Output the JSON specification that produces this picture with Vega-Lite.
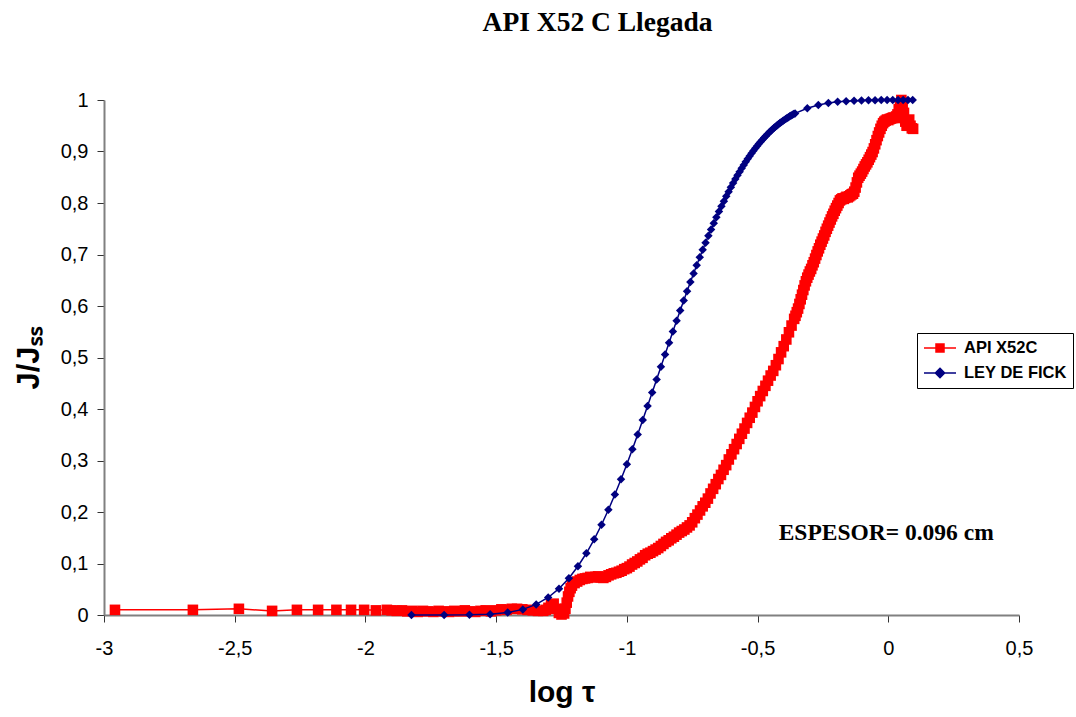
{
  "$schema": "https://vega.github.io/schema/vega-lite/v6.json",
  "width": 915,
  "height": 515,
  "autosize": "none",
  "padding": {"left": 104, "top": 100, "right": 57, "bottom": 102},
  "background": "white",
  "config": {"view": {"stroke": null}, "font": "Liberation Sans"},
  "title": {"text": "API X52 C Llegada", "font": "Liberation Serif", "fontSize": 27.5, "fontWeight": "bold", "color": "black", "anchor": "middle", "dx": 36, "offset": 54},
  "datasets": {
    "red": [
      {"x": -2.958, "y": 0.010}, {"x": -2.660, "y": 0.010}, {"x": -2.484, "y": 0.012}, {"x": -2.357, "y": 0.008},
      {"x": -2.262, "y": 0.010}, {"x": -2.181, "y": 0.010}, {"x": -2.111, "y": 0.010}, {"x": -2.055, "y": 0.010},
      {"x": -2.005, "y": 0.010}, {"x": -1.960, "y": 0.009}, {"x": -1.918, "y": 0.010},
      {"x": -1.90, "y": 0.009}, {"x": -1.88, "y": 0.008}, {"x": -1.86, "y": 0.009}, {"x": -1.84, "y": 0.007},
      {"x": -1.82, "y": 0.008}, {"x": -1.80, "y": 0.006}, {"x": -1.78, "y": 0.008}, {"x": -1.76, "y": 0.007},
      {"x": -1.74, "y": 0.006}, {"x": -1.72, "y": 0.008}, {"x": -1.70, "y": 0.007}, {"x": -1.68, "y": 0.006},
      {"x": -1.66, "y": 0.008}, {"x": -1.64, "y": 0.007}, {"x": -1.62, "y": 0.009}, {"x": -1.60, "y": 0.007},
      {"x": -1.58, "y": 0.006}, {"x": -1.56, "y": 0.008}, {"x": -1.54, "y": 0.009}, {"x": -1.52, "y": 0.007},
      {"x": -1.50, "y": 0.009}, {"x": -1.48, "y": 0.011}, {"x": -1.46, "y": 0.010}, {"x": -1.44, "y": 0.012},
      {"x": -1.42, "y": 0.012}, {"x": -1.40, "y": 0.011}, {"x": -1.38, "y": 0.010}, {"x": -1.36, "y": 0.009},
      {"x": -1.34, "y": 0.008}, {"x": -1.32, "y": 0.008}, {"x": -1.31, "y": 0.010}, {"x": -1.30, "y": 0.014},
      {"x": -1.29, "y": 0.020}, {"x": -1.28, "y": 0.022}, {"x": -1.27, "y": 0.012}, {"x": -1.26, "y": 0.004},
      {"x": -1.25, "y": 0.001}, {"x": -1.24, "y": 0.003}, {"x": -1.235, "y": 0.012}, {"x": -1.23, "y": 0.024},
      {"x": -1.225, "y": 0.036}, {"x": -1.22, "y": 0.045}, {"x": -1.215, "y": 0.052}, {"x": -1.21, "y": 0.057},
      {"x": -1.20, "y": 0.062}, {"x": -1.19, "y": 0.065}, {"x": -1.18, "y": 0.068}, {"x": -1.17, "y": 0.070},
      {"x": -1.16, "y": 0.071}, {"x": -1.15, "y": 0.072}, {"x": -1.14, "y": 0.074}, {"x": -1.13, "y": 0.073},
      {"x": -1.12, "y": 0.074}, {"x": -1.11, "y": 0.075}, {"x": -1.10, "y": 0.073}, {"x": -1.09, "y": 0.072},
      {"x": -1.08, "y": 0.074}, {"x": -1.07, "y": 0.077}, {"x": -1.06, "y": 0.079}, {"x": -1.05, "y": 0.081},
      {"x": -1.04, "y": 0.082}, {"x": -1.03, "y": 0.084}, {"x": -1.02, "y": 0.086}, {"x": -1.01, "y": 0.089},
      {"x": -1.00, "y": 0.091}, {"x": -0.99, "y": 0.094}, {"x": -0.98, "y": 0.098}, {"x": -0.97, "y": 0.101},
      {"x": -0.96, "y": 0.104}, {"x": -0.95, "y": 0.108}, {"x": -0.94, "y": 0.111}, {"x": -0.93, "y": 0.116},
      {"x": -0.92, "y": 0.119}, {"x": -0.91, "y": 0.121}, {"x": -0.90, "y": 0.124}, {"x": -0.89, "y": 0.127},
      {"x": -0.88, "y": 0.130}, {"x": -0.87, "y": 0.134}, {"x": -0.86, "y": 0.138}, {"x": -0.85, "y": 0.142},
      {"x": -0.84, "y": 0.145}, {"x": -0.83, "y": 0.149}, {"x": -0.82, "y": 0.152}, {"x": -0.81, "y": 0.156},
      {"x": -0.80, "y": 0.160}, {"x": -0.79, "y": 0.163}, {"x": -0.78, "y": 0.166}, {"x": -0.77, "y": 0.170},
      {"x": -0.76, "y": 0.174}, {"x": -0.75, "y": 0.180}, {"x": -0.74, "y": 0.188}, {"x": -0.73, "y": 0.195},
      {"x": -0.72, "y": 0.203}, {"x": -0.71, "y": 0.211}, {"x": -0.70, "y": 0.218}, {"x": -0.69, "y": 0.226},
      {"x": -0.68, "y": 0.236}, {"x": -0.67, "y": 0.245}, {"x": -0.66, "y": 0.254}, {"x": -0.65, "y": 0.264},
      {"x": -0.64, "y": 0.272}, {"x": -0.63, "y": 0.282}, {"x": -0.62, "y": 0.291}, {"x": -0.61, "y": 0.302},
      {"x": -0.60, "y": 0.312}, {"x": -0.59, "y": 0.322}, {"x": -0.58, "y": 0.332}, {"x": -0.57, "y": 0.342},
      {"x": -0.56, "y": 0.352}, {"x": -0.55, "y": 0.362}, {"x": -0.54, "y": 0.373}, {"x": -0.53, "y": 0.383},
      {"x": -0.52, "y": 0.393}, {"x": -0.51, "y": 0.404}, {"x": -0.50, "y": 0.415}, {"x": -0.49, "y": 0.425},
      {"x": -0.48, "y": 0.435}, {"x": -0.47, "y": 0.445}, {"x": -0.46, "y": 0.455}, {"x": -0.45, "y": 0.465},
      {"x": -0.44, "y": 0.474}, {"x": -0.43, "y": 0.485}, {"x": -0.42, "y": 0.497}, {"x": -0.41, "y": 0.510},
      {"x": -0.40, "y": 0.522}, {"x": -0.39, "y": 0.535}, {"x": -0.38, "y": 0.549}, {"x": -0.37, "y": 0.562},
      {"x": -0.36, "y": 0.575}, {"x": -0.355, "y": 0.581}, {"x": -0.35, "y": 0.588}, {"x": -0.345, "y": 0.595},
      {"x": -0.34, "y": 0.604}, {"x": -0.335, "y": 0.613}, {"x": -0.33, "y": 0.622}, {"x": -0.325, "y": 0.631},
      {"x": -0.32, "y": 0.640}, {"x": -0.315, "y": 0.648}, {"x": -0.31, "y": 0.655}, {"x": -0.305, "y": 0.661},
      {"x": -0.30, "y": 0.667}, {"x": -0.295, "y": 0.672}, {"x": -0.29, "y": 0.679}, {"x": -0.285, "y": 0.685},
      {"x": -0.28, "y": 0.692}, {"x": -0.275, "y": 0.699}, {"x": -0.27, "y": 0.706}, {"x": -0.265, "y": 0.712},
      {"x": -0.26, "y": 0.719}, {"x": -0.255, "y": 0.725}, {"x": -0.25, "y": 0.731}, {"x": -0.245, "y": 0.737},
      {"x": -0.24, "y": 0.744}, {"x": -0.235, "y": 0.750}, {"x": -0.23, "y": 0.756}, {"x": -0.225, "y": 0.762},
      {"x": -0.22, "y": 0.768}, {"x": -0.215, "y": 0.774}, {"x": -0.21, "y": 0.779}, {"x": -0.205, "y": 0.785},
      {"x": -0.20, "y": 0.790}, {"x": -0.195, "y": 0.795}, {"x": -0.19, "y": 0.800}, {"x": -0.185, "y": 0.805},
      {"x": -0.18, "y": 0.807}, {"x": -0.175, "y": 0.809}, {"x": -0.17, "y": 0.808}, {"x": -0.165, "y": 0.810},
      {"x": -0.16, "y": 0.812}, {"x": -0.155, "y": 0.811}, {"x": -0.15, "y": 0.813}, {"x": -0.145, "y": 0.815},
      {"x": -0.14, "y": 0.817}, {"x": -0.135, "y": 0.818}, {"x": -0.13, "y": 0.822}, {"x": -0.125, "y": 0.830},
      {"x": -0.12, "y": 0.840}, {"x": -0.115, "y": 0.849}, {"x": -0.11, "y": 0.853}, {"x": -0.105, "y": 0.857},
      {"x": -0.10, "y": 0.861}, {"x": -0.095, "y": 0.866}, {"x": -0.09, "y": 0.871}, {"x": -0.085, "y": 0.875},
      {"x": -0.08, "y": 0.879}, {"x": -0.075, "y": 0.884}, {"x": -0.07, "y": 0.889}, {"x": -0.065, "y": 0.894},
      {"x": -0.06, "y": 0.899}, {"x": -0.055, "y": 0.906}, {"x": -0.05, "y": 0.914}, {"x": -0.045, "y": 0.922},
      {"x": -0.04, "y": 0.930}, {"x": -0.035, "y": 0.937}, {"x": -0.03, "y": 0.944}, {"x": -0.025, "y": 0.950},
      {"x": -0.02, "y": 0.955}, {"x": -0.015, "y": 0.958}, {"x": -0.01, "y": 0.960}, {"x": -0.005, "y": 0.962},
      {"x": 0.0, "y": 0.961}, {"x": 0.005, "y": 0.963}, {"x": 0.01, "y": 0.964}, {"x": 0.015, "y": 0.965},
      {"x": 0.02, "y": 0.966}, {"x": 0.025, "y": 0.965}, {"x": 0.03, "y": 0.968}, {"x": 0.035, "y": 0.972},
      {"x": 0.04, "y": 0.982}, {"x": 0.045, "y": 0.992}, {"x": 0.05, "y": 1.0}, {"x": 0.055, "y": 0.993},
      {"x": 0.06, "y": 0.975}, {"x": 0.065, "y": 0.958}, {"x": 0.07, "y": 0.950}, {"x": 0.075, "y": 0.955},
      {"x": 0.08, "y": 0.962}, {"x": 0.085, "y": 0.950}, {"x": 0.09, "y": 0.945}, {"x": 0.095, "y": 0.944}
    ],
    "blue": [
      {"x": -1.8239, "y": 0.0}, {"x": -1.699, "y": 0.0}, {"x": -1.6021, "y": 0.0003}, {"x": -1.5229, "y": 0.0016},
      {"x": -1.4559, "y": 0.0048}, {"x": -1.3979, "y": 0.0109}, {"x": -1.3468, "y": 0.0206}, {"x": -1.301, "y": 0.034},
      {"x": -1.2596, "y": 0.0511}, {"x": -1.2218, "y": 0.0714}, {"x": -1.1871, "y": 0.0946}, {"x": -1.1549, "y": 0.1199},
      {"x": -1.1249, "y": 0.147}, {"x": -1.0969, "y": 0.1753}, {"x": -1.0706, "y": 0.2043}, {"x": -1.0458, "y": 0.2339},
      {"x": -1.0223, "y": 0.2635}, {"x": -1.0, "y": 0.2929}, {"x": -0.9788, "y": 0.3219}, {"x": -0.9586, "y": 0.3505},
      {"x": -0.9393, "y": 0.3785}, {"x": -0.9208, "y": 0.4057}, {"x": -0.9031, "y": 0.432}, {"x": -0.8861, "y": 0.4574},
      {"x": -0.8697, "y": 0.4821}, {"x": -0.8539, "y": 0.5058}, {"x": -0.8386, "y": 0.5285}, {"x": -0.8239, "y": 0.5504},
      {"x": -0.8097, "y": 0.5712}, {"x": -0.7959, "y": 0.5912}, {"x": -0.7825, "y": 0.6106}, {"x": -0.7696, "y": 0.6288},
      {"x": -0.757, "y": 0.6464}, {"x": -0.7447, "y": 0.6632}, {"x": -0.7328, "y": 0.6791}, {"x": -0.7212, "y": 0.6945},
      {"x": -0.71, "y": 0.7091}, {"x": -0.699, "y": 0.7229}, {"x": -0.6882, "y": 0.7362}, {"x": -0.6778, "y": 0.7487},
      {"x": -0.6676, "y": 0.7608}, {"x": -0.6576, "y": 0.7723}, {"x": -0.6478, "y": 0.7833}, {"x": -0.6383, "y": 0.7936},
      {"x": -0.6289, "y": 0.8035}, {"x": -0.6198, "y": 0.813}, {"x": -0.6108, "y": 0.8219}, {"x": -0.6021, "y": 0.8305},
      {"x": -0.5935, "y": 0.8386}, {"x": -0.585, "y": 0.8464}, {"x": -0.5768, "y": 0.8538}, {"x": -0.5686, "y": 0.8608},
      {"x": -0.5607, "y": 0.8675}, {"x": -0.5528, "y": 0.8739}, {"x": -0.5452, "y": 0.8799}, {"x": -0.5376, "y": 0.8857},
      {"x": -0.5302, "y": 0.8912}, {"x": -0.5229, "y": 0.8965}, {"x": -0.5157, "y": 0.9014}, {"x": -0.5086, "y": 0.9062},
      {"x": -0.5017, "y": 0.9107}, {"x": -0.4949, "y": 0.915}, {"x": -0.4881, "y": 0.9191}, {"x": -0.4815, "y": 0.923},
      {"x": -0.475, "y": 0.9267}, {"x": -0.4685, "y": 0.9302}, {"x": -0.4622, "y": 0.9336}, {"x": -0.4559, "y": 0.9368},
      {"x": -0.4498, "y": 0.9398}, {"x": -0.4437, "y": 0.9427}, {"x": -0.4377, "y": 0.9455}, {"x": -0.4318, "y": 0.9481},
      {"x": -0.426, "y": 0.9506}, {"x": -0.4202, "y": 0.953}, {"x": -0.4145, "y": 0.9552}, {"x": -0.4089, "y": 0.9574},
      {"x": -0.4034, "y": 0.9594}, {"x": -0.3979, "y": 0.9614}, {"x": -0.3925, "y": 0.9633}, {"x": -0.3872, "y": 0.965},
      {"x": -0.382, "y": 0.9667}, {"x": -0.3768, "y": 0.9683}, {"x": -0.3716, "y": 0.9698}, {"x": -0.3665, "y": 0.9713},
      {"x": -0.3615, "y": 0.9727}, {"x": -0.3565, "y": 0.974}, {"x": -0.3098, "y": 0.9841}, {"x": -0.2676, "y": 0.9903},
      {"x": -0.2291, "y": 0.9941}, {"x": -0.1938, "y": 0.9964}, {"x": -0.1612, "y": 0.9978}, {"x": -0.1308, "y": 0.9987},
      {"x": -0.1024, "y": 0.9992}, {"x": -0.0757, "y": 0.9995}, {"x": -0.0506, "y": 0.9997}, {"x": -0.0269, "y": 0.9998},
      {"x": -0.0044, "y": 0.9999}, {"x": 0.017, "y": 1.0}, {"x": 0.0374, "y": 1.0}, {"x": 0.0569, "y": 1.0},
      {"x": 0.0755, "y": 1.0}, {"x": 0.0934, "y": 1.0}
    ],
    "note": [{"x": -0.008, "y": 0.159, "t": "ESPESOR= 0.096 cm"}]
  },
  "encoding": {
    "x": {
      "field": "x", "type": "quantitative",
      "scale": {"domain": [-3, 0.5], "nice": false, "zero": false},
      "axis": {
        "values": [-3, -2.5, -2, -1.5, -1, -0.5, 0, 0.5],
        "labelExpr": "replace(toString(datum.value), '.', ',')",
        "title": "log τ", "titleFont": "Liberation Sans", "titleFontSize": 30, "titleFontWeight": "bold", "titleColor": "black", "titlePadding": 19,
        "labelFont": "Liberation Sans", "labelFontSize": 20, "labelColor": "black", "labelPadding": 16, "labelFlush": false, "labelOverlap": false,
        "tickSize": 7, "tickColor": "#333333", "tickWidth": 1, "domainColor": "#808080", "domainWidth": 2, "grid": false
      }
    },
    "y": {
      "field": "y", "type": "quantitative",
      "scale": {"domain": [0, 1], "nice": false, "zero": false},
      "axis": {
        "values": [0, 0.1, 0.2, 0.3, 0.4, 0.5, 0.6, 0.7, 0.8, 0.9, 1],
        "labelExpr": "replace(toString(datum.value), '.', ',')",
        "title": "J/Jₛₛ", "titleFont": "Liberation Sans", "titleFontSize": 31, "titleFontWeight": "bold", "titleColor": "black", "titlePadding": 15,
        "labelFont": "Liberation Sans", "labelFontSize": 20, "labelColor": "black", "labelPadding": 9, "labelFlush": false, "labelOverlap": false,
        "tickSize": 7, "tickColor": "#333333", "tickWidth": 1, "domainColor": "#808080", "domainWidth": 2, "grid": false
      }
    }
  },
  "layer": [
    {
      "data": {"name": "red"},
      "mark": {"type": "line", "strokeWidth": 1.5, "clip": false},
      "encoding": {
        "color": {
          "datum": "API X52C",
          "type": "nominal",
          "scale": {"domain": ["API X52C", "LEY DE FICK"], "range": ["#FF0000", "#000080"]},
          "legend": {
            "orient": "none", "legendX": 813, "legendY": 233, "title": null,
            "strokeColor": "black", "fillColor": "white", "padding": 6,
            "symbolSize": 256, "symbolStrokeWidth": 1.5,
            "labelFont": "Liberation Sans", "labelFontSize": 16.5, "labelFontWeight": "bold", "labelColor": "black",
            "labelOffset": 23, "rowPadding": 7,
            "encode": {
              "symbols": {
                "update": {
                  "shape": {"signal": "datum.value == 'API X52C' ? 'M-1,0H3M0.5,-0.5H1.5V0.5H0.5Z' : 'M-1,0H3M1,-0.58L1.58,0L1,0.58L0.42,0Z'"},
                  "fill": {"signal": "datum.value == 'API X52C' ? '#FF0000' : '#000080'"},
                  "stroke": {"signal": "datum.value == 'API X52C' ? '#FF0000' : '#000080'"}
                }
              }
            }
          }
        }
      }
    },
    {
      "data": {"name": "red"},
      "mark": {"type": "point", "shape": "square", "filled": true, "size": 112, "color": "#FF0000", "opacity": 1}
    },
    {
      "data": {"name": "blue"},
      "mark": {"type": "line", "strokeWidth": 1.5},
      "encoding": {"color": {"datum": "LEY DE FICK", "type": "nominal"}}
    },
    {
      "data": {"name": "blue"},
      "mark": {"type": "point", "shape": "diamond", "filled": true, "size": 72, "color": "#000080", "opacity": 1}
    },
    {
      "data": {"name": "note"},
      "mark": {"type": "text", "font": "Liberation Serif", "fontSize": 23.5, "fontWeight": "bold", "color": "black", "align": "center", "baseline": "middle"},
      "encoding": {"text": {"field": "t"}}
    }
  ]
}
